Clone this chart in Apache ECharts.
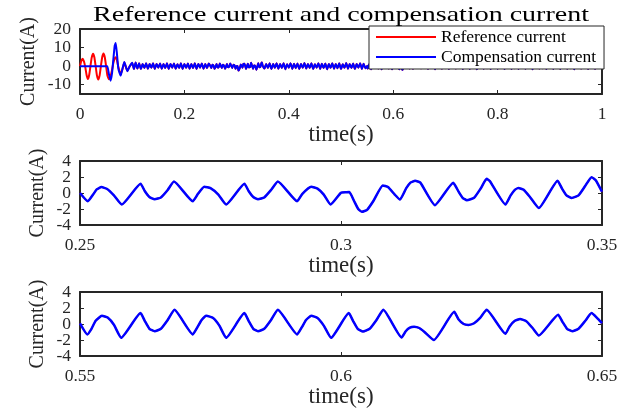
<!DOCTYPE html>
<html>
<head>
<meta charset="utf-8">
<title>Reference current and compensation current</title>
<script src="https://cdn.jsdelivr.net/npm/echarts@6/dist/echarts.min.js"></script>
<style>
  html, body { margin: 0; padding: 0; background: #fff; }
  #chart { width: 632px; height: 413px; }
</style>
</head>
<body>
<div id="chart"></div>
<script>
// ---- measured waveforms (time in s, current in A) ----

// start-up transient, 0 .. 0.1 s
const startTime = [0, 0.0025, 0.005, 0.0075, 0.01, 0.0125, 0.015, 0.0175, 0.02, 0.0225,
  0.025, 0.0275, 0.03, 0.0325, 0.035, 0.0375, 0.04, 0.0425, 0.045, 0.0475,
  0.05, 0.0525, 0.0555, 0.0587, 0.0615, 0.064, 0.0665, 0.0683, 0.0705, 0.0735,
  0.0779, 0.0815, 0.0849, 0.0907, 0.095, 0.1];
const startRef = [0, 2.8, 4.0, 2.6, -0.4, -4.6, -6.9, -4.9, 0, 4.7,
  6.7, 4.8, 0, -5.1, -7.2, -5.1, 0, 4.8, 6.8, 4.8,
  0, -5.1, -7.1, -5.3, -1.8, 1.8, 4.2, 4.8, 3.6, -0.5,
  -4.3, -1.5, 1.9, -2.5, -0.2, 1.6];
const startComp = [0, 0, 0, 0, 0, 0, 0, 0, 0, 0,
  0, 0, 0, 0, 0, 0, 0, 0, 0, 0,
  0, 0, -4.5, -7.8, -3.5, 4.0, 11.0, 12.4, 7.5, -1.5,
  -5.1, -1.2, 2.2, -2.7, -0.2, 1.8];

// steady-state ripple, sampled every 1/300 s after each segment start
const STEP = 1 / 300;
const steadyA = [ // after 0.1 s
  -1.6, 1.9, -1.3, 1.5, -1.6, 1.2, -1.0, 1.6, -1.4, 1.1,
  -0.9, 1.5, -1.5, 1.2, -0.8, 1.4, -1.4, 1.1, -1.0, 1.5,
  -1.5, 1.2, -0.8, 1.4, -1.4, 1.0, -1.0, 1.5, -1.5, 1.2,
  -0.9, 1.4, -1.4, 1.1, -1.0, 1.5, -1.5, 1.2, -0.8, 1.4,
  -1.4, 1.1, -1.0, 1.4];
const steadyB = [ // after 0.35 s
  -1.3, 1.2, -1.0, 1.5, -1.6, 1.1, -0.9, 1.6, -1.4, 1.2,
  -1.0, 1.5, -1.7, 1.0, -0.8, 1.6, -1.5, 1.3, -1.1, 1.4,
  -1.6, 1.1, -0.9, 1.7, -1.3, 1.2, -1.0, 1.5, -1.6, 1.0,
  -0.8, 1.6, -1.5, 1.3, -1.0, 1.4, -1.7, 1.1, -0.9, 1.6,
  -1.4, 1.2, -1.1, 1.5, -1.6, 1.0, -0.9, 1.7, -1.4, 1.2,
  -1.0, 1.4, -1.6, 1.1, -0.8, 1.6, -1.5, 1.3, -1.2];
const steadyC = [ // after 0.65 s
  -1.2, 1.1, -0.9, 1.6, -1.5, 1.2, -1.0, 1.5, -1.7, 1.0,
  -0.8, 1.6, -1.4, 1.3, -1.1, 1.4, -1.6, 1.1, -0.9, 1.7,
  -1.3, 1.2, -1.0, 1.5, -1.6, 1.0, -0.8, 1.6, -1.5, 1.3,
  -1.0, 1.4, -1.7, 1.1, -0.9, 1.6, -1.4, 1.2, -1.1, 1.5,
  -1.6, 1.0, -0.9, 1.7, -1.4, 1.2, -1.0, 1.4, -1.6, 1.1,
  -0.8, 1.6, -1.5, 1.3, -1.2, 1.5, -1.5, 1.0, -0.9, 1.6,
  -1.4, 1.2, -1.0, 1.5, -1.7, 1.1, -0.8, 1.7, -1.3, 1.2,
  -1.1, 1.4, -1.6, 1.0, -0.9, 1.6, -1.5, 1.3, -1.0, 1.5,
  -1.6, 1.1, -0.8, 1.6, -1.4, 1.2, -1.1, 1.4, -1.7, 1.0,
  -0.9, 1.7, -1.3, 1.2, -1.0, 1.5, -1.6, 1.1, -0.8, 1.6,
  -1.5, 1.3, -1.0, 1.4, 0.0];

// detail window 1: 0.25 .. 0.35 s
const detailTimeA = [0.2500, 0.2515, 0.2525, 0.2532, 0.2541, 0.2552, 0.2565, 0.2580, 0.2616, 0.2624,
  0.2633, 0.2643, 0.2655, 0.2668, 0.2680, 0.2716, 0.2726, 0.2738, 0.2750, 0.2765,
  0.2780, 0.2815, 0.2823, 0.2832, 0.2841, 0.2853, 0.2866, 0.2879, 0.2916, 0.2926,
  0.2943, 0.2955, 0.2967, 0.2980, 0.3000, 0.3010, 0.3016, 0.3025, 0.3033, 0.3040,
  0.3050, 0.3062, 0.3080, 0.3090, 0.3103, 0.3113, 0.3125, 0.3133, 0.3142, 0.3152,
  0.3180, 0.3215, 0.3225, 0.3233, 0.3241, 0.3255, 0.3268, 0.3279, 0.3285, 0.3315,
  0.3325, 0.3333, 0.3340, 0.3350, 0.3362, 0.3379, 0.3415, 0.3423, 0.3432, 0.3442,
  0.3455, 0.3468, 0.3480, 0.3488, 0.3500];
const detailCurrentA = [0.00, -1.03, -0.20, 0.45, 0.74, 0.50, -0.30, -1.44, 1.15, 0.25,
  -0.50, -0.78, -0.55, 0.38, 1.44, -1.03, -0.10, 0.78, 0.60, -0.20,
  -1.44, 1.15, 0.25, -0.50, -0.78, -0.55, 0.38, 1.44, -1.03, -0.10,
  0.78, 0.55, -0.20, -1.44, 0.04, 0.10, 0.12, -1.00, -2.00, -2.35,
  -2.10, -1.00, 0.95, 0.75, -0.20, -0.82, 0.60, 1.30, 1.52, 1.30,
  -1.52, 1.28, 0.20, -0.60, -0.90, -0.60, 0.60, 1.77, 1.50, -1.44,
  -0.30, 0.40, 0.62, 0.40, -0.50, -1.89, 1.52, 0.60, -0.30, -0.62,
  -0.30, 0.90, 1.98, 1.60, 0.15];

// detail window 2: 0.55 .. 0.65 s
const detailTimeB = [0.5500, 0.5514, 0.5522, 0.5530, 0.5542, 0.5553, 0.5565, 0.5579, 0.5616, 0.5624,
  0.5633, 0.5643, 0.5655, 0.5668, 0.5681, 0.5716, 0.5725, 0.5733, 0.5742, 0.5755,
  0.5767, 0.5780, 0.5815, 0.5823, 0.5832, 0.5841, 0.5853, 0.5866, 0.5879, 0.5916,
  0.5925, 0.5933, 0.5943, 0.5955, 0.5967, 0.5981, 0.6015, 0.6023, 0.6032, 0.6042,
  0.6055, 0.6068, 0.6081, 0.6116, 0.6124, 0.6132, 0.6140, 0.6150, 0.6160, 0.6178,
  0.6217, 0.6225, 0.6235, 0.6244, 0.6255, 0.6267, 0.6279, 0.6315, 0.6323, 0.6333,
  0.6343, 0.6355, 0.6367, 0.6379, 0.6416, 0.6424, 0.6433, 0.6443, 0.6455, 0.6468,
  0.6480, 0.6490, 0.6500];
const detailCurrentB = [0.08, -1.30, -0.60, 0.40, 1.03, 0.80, -0.10, -1.73, 1.36, 0.40,
  -0.60, -0.90, -0.60, 0.50, 1.77, -1.30, -0.40, 0.50, 1.03, 0.75,
  -0.20, -1.73, 1.36, 0.40, -0.60, -0.90, -0.60, 0.50, 1.77, -1.30,
  -0.40, 0.50, 1.03, 0.75, -0.20, -1.73, 1.36, 0.40, -0.60, -0.95,
  -0.60, 0.50, 1.77, -1.69, -0.90, -0.45, -0.33, -0.50, -1.00, -2.00,
  1.52, 0.60, 0.00, -0.12, 0.10, 0.80, 1.77, -1.23, -0.30, 0.40,
  0.62, 0.35, -0.50, -1.44, 1.15, 0.30, -0.60, -0.90, -0.60, 0.40,
  1.36, 0.80, 0.10];

// axis ticks
const fullTicks = [0, 0.2, 0.4, 0.6, 0.8, 1];
const fullCurrentTicks = [-10, 0, 10, 20];
const detailCurrentTicks = [-4, -2, 0, 2, 4];
const detailLabelsOuter = [-4, 0, 4];   // labelled on the main left axis
const detailLabelsInner = [-2, 2];      // labelled on a companion left axis

// ---- build series tables ----
const pairs = (t, v) => t.map((x, i) => [x, v[i]]);
const steady = (t0, v) => v.map((y, k) => [t0 + (k + 1) * STEP, y]);

const tail = [].concat(
  steady(0.1, steadyA), pairs(detailTimeA, detailCurrentA),
  steady(0.35, steadyB), pairs(detailTimeB, detailCurrentB),
  steady(0.65, steadyC));
const fullRef = pairs(startTime, startRef).concat(tail);
const fullComp = pairs(startTime, startComp).concat(tail);
const winA = pairs(detailTimeA, detailCurrentA);
const winB = pairs(detailTimeB, detailCurrentB);

// ---- styling ----
const FONT = '"Liberation Serif", "Times New Roman", serif';
const INK = '#262626';
const RED = '#ff0000';
const BLUE = '#0000ff';

const grids = [
  { left: 80, top: 29, width: 522, height: 65 },
  { left: 80, top: 161, width: 522, height: 64 },
  { left: 80, top: 292, width: 522, height: 64 }
].map(g => Object.assign({ show: false, containLabel: false, outerBoundsMode: 'none' }, g));

const tickStyle = { show: true, inside: true, length: 4, lineStyle: { color: INK, width: 1 } };
const labelStyle = {
  show: true, color: '#262626', fontFamily: FONT, fontSize: 17.5,
  showMinLabel: true, showMaxLabel: true, hideOverlap: false
};

function xAxes(gi, min, max, interval, ticks) {
  const common = {
    type: 'value', gridIndex: gi, min, max, interval,
    splitLine: { show: false },
    axisLine: { show: true, onZero: false, lineStyle: { color: INK, width: 2 } },
    axisTick: Object.assign({}, tickStyle, ticks ? { customValues: ticks } : {})
  };
  const bottom = Object.assign({}, common, {
    position: 'bottom',
    axisLabel: Object.assign({}, labelStyle, { margin: 11 }, ticks ? { customValues: ticks } : {}),
    name: 'time(s)', nameLocation: 'middle', nameGap: 29, nameMoveOverlap: false,
    nameTextStyle: { fontFamily: FONT, fontSize: 23, color: '#262626' }
  });
  const top = Object.assign({}, common, { position: 'top', axisLabel: { show: false } });
  return [bottom, top];
}

function yAxes(gi, min, max, interval, ticks, labels, nameGap) {
  const common = {
    type: 'value', gridIndex: gi, min, max, interval,
    splitLine: { show: false },
    axisLine: { show: true, onZero: false, lineStyle: { color: INK, width: 2 } },
    axisTick: Object.assign({}, tickStyle, { customValues: ticks })
  };
  const left = Object.assign({}, common, {
    position: 'left',
    axisLabel: Object.assign({}, labelStyle, { margin: 9, customValues: labels }),
    name: 'Current(A)', nameLocation: 'middle', nameGap, nameMoveOverlap: false,
    nameTextStyle: { fontFamily: FONT, fontSize: 20, color: '#262626' }
  });
  const right = Object.assign({}, common, { position: 'right', axisLabel: { show: false } });
  return [left, right];
}

// label-only companion axis sharing the same scale as its grid's left axis
function labelAxis(gi, min, max, labels) {
  return {
    type: 'value', gridIndex: gi, min, max, position: 'left', offset: 0,
    splitLine: { show: false }, axisLine: { show: false }, axisTick: { show: false },
    axisLabel: Object.assign({}, labelStyle, { margin: 9, customValues: labels })
  };
}

const xAxis = [].concat(
  xAxes(0, 0, 1, 0.2, fullTicks),
  xAxes(1, 0.25, 0.35, 0.05),
  xAxes(2, 0.55, 0.65, 0.05));
const yAxis = [].concat(
  yAxes(0, -15, 20, 5, fullCurrentTicks, fullCurrentTicks, 41),
  yAxes(1, -4, 4, 2, detailCurrentTicks, detailLabelsOuter, 32),
  yAxes(2, -4, 4, 2, detailCurrentTicks, detailLabelsOuter, 32),
  [labelAxis(1, -4, 4, detailLabelsInner), labelAxis(2, -4, 4, detailLabelsInner)]);

function line(name, data, axisIdx, color, width, z) {
  return {
    name, type: 'line', data,
    xAxisIndex: axisIdx * 2, yAxisIndex: axisIdx * 2,
    symbol: 'none', smooth: 0.15, z,
    lineStyle: { color, width }, itemStyle: { color },
    emphasis: { disabled: true }, animation: false
  };
}

const series = [
  line('Reference current', fullRef, 0, RED, 2, 2),
  line('Compensation current', fullComp, 0, BLUE, 2, 3),
  line('Reference current', winA, 1, RED, 1.5, 2),
  line('Compensation current', winA, 1, BLUE, 2.5, 3),
  line('Reference current', winB, 2, RED, 1.5, 2),
  line('Compensation current', winB, 2, BLUE, 2.5, 3)
];

const chart = echarts.init(document.getElementById('chart'), null, { renderer: 'canvas' });
chart.setOption({
  animation: false,
  backgroundColor: '#fff',
  grid: grids,
  xAxis, yAxis, series,
  legend: {
    orient: 'vertical', left: 369, top: 26,
    padding: [1, 8, 2, 7], itemGap: 0,
    icon: 'rect', itemWidth: 60, itemHeight: 2,
    backgroundColor: '#fff', borderColor: INK, borderWidth: 1, borderRadius: 0,
    z: 10,
    textStyle: { fontFamily: FONT, fontSize: 17.5, color: '#000', lineHeight: 20 },
    data: ['Reference current', 'Compensation current']
  },
  graphic: [{
    type: 'text', x: 341, y: 15, scaleX: 1.333, z: 10,
    style: {
      text: 'Reference current and compensation current',
      font: '21px "Liberation Serif", "Times New Roman", serif',
      fill: '#000', align: 'center', verticalAlign: 'middle'
    }
  }]
});
</script>
</body>
</html>
